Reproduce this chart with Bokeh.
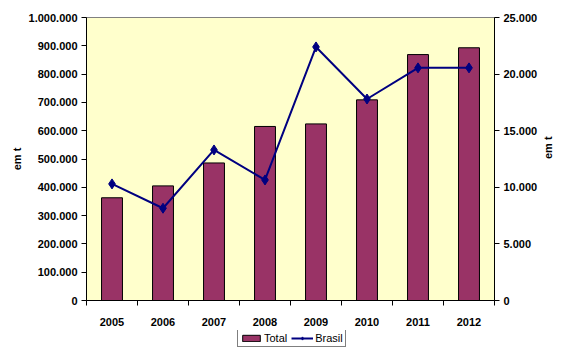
import math
from bokeh.plotting import figure
from bokeh.layouts import column
from bokeh.models import (Range1d, LinearAxis, FixedTicker, Legend, LegendItem,
                          ColumnDataSource)
from bokeh.embed import file_html
from bokeh.resources import INLINE

years = ["2005", "2006", "2007", "2008", "2009", "2010", "2011", "2012"]
total = [363000, 405000, 486000, 615000, 624000, 709000, 869000, 893000]
brasil = [10300, 8150, 13300, 10650, 22400, 17800, 20550, 20550]
left_ticks = [0, 100000, 200000, 300000, 400000, 500000, 600000, 700000, 800000, 900000, 1000000]
right_ticks = [0, 5000, 10000, 15000, 20000, 25000]
y_label = "em t"

def fmt(v):
    return "{:,}".format(v).replace(",", ".")

xs = [i + 0.5 for i in range(len(years))]
src = ColumnDataSource(dict(x=xs, total=total, brasil=brasil))

FONT = "Liberation Sans"
BAR_COLOR = "#993366"
LINE_COLOR = "#000080"

p = figure(width=566, height=330, output_backend="svg", toolbar_location=None,
           x_range=Range1d(0, len(years)), y_range=Range1d(0, 1000000),
           min_border_left=86, min_border_right=72, min_border_top=17, min_border_bottom=30)
p.extra_y_ranges = {"r": Range1d(0, 25000)}
p.background_fill_color = "#FFFFCC"
p.border_fill_color = "white"
p.outline_line_color = "#808080"
p.xgrid.visible = False
p.ygrid.visible = False

p.vbar(x="x", top="total", width=0.41, source=src,
       fill_color=BAR_COLOR, line_color="black", line_width=1)
p.line(x="x", y="brasil", source=src, y_range_name="r",
       line_color=LINE_COLOR, line_width=2)
p.scatter(x="x", y="brasil", source=src, y_range_name="r", marker="diamond",
          size=10, fill_color=LINE_COLOR, line_color=LINE_COLOR)

# x axis
xa = p.xaxis[0]
xa.ticker = FixedTicker(ticks=xs, minor_ticks=list(range(len(years) + 1)))
xa.major_label_overrides = {x: y for x, y in zip(xs, years)}
xa.major_tick_line_color = None
xa.minor_tick_out = 5
xa.minor_tick_in = 0
xa.minor_tick_line_color = "black"
xa.axis_line_color = "black"
xa.major_label_standoff = 11
xa.major_label_text_font = FONT
xa.major_label_text_font_style = "bold"
xa.major_label_text_font_size = "11px"
xa.major_label_text_color = "black"

def style_y(ax, ticks):
    ax.ticker = FixedTicker(ticks=ticks)
    ax.major_label_overrides = {t: fmt(t) for t in ticks}
    ax.minor_tick_line_color = None
    ax.major_tick_out = 5
    ax.major_tick_in = 0
    ax.axis_line_color = "black"
    ax.major_label_standoff = 4
    ax.major_label_text_font = FONT
    ax.major_label_text_font_style = "bold"
    ax.major_label_text_font_size = "11px"
    ax.major_label_text_color = "black"
    ax.axis_label = y_label
    ax.axis_label_text_font = FONT
    ax.axis_label_text_font_style = "bold"
    ax.axis_label_text_font_size = "11px"
    ax.axis_label_text_color = "black"
    ax.axis_label_standoff = 3

style_y(p.yaxis[0], left_ticks)
ra = LinearAxis(y_range_name="r")
style_y(ra, right_ticks)
ra.axis_label_orientation = math.pi / 2
ra.axis_label_standoff = 8
p.add_layout(ra, "right")

# legend strip below the chart (frames are aligned with the chart above)
lg = figure(width=566, height=23, output_backend="svg", toolbar_location=None,
            x_range=Range1d(0, 1), y_range=Range1d(0, 1),
            min_border=0, outline_line_color=None)
lg.axis.visible = False
lg.grid.visible = False
lb = lg.vbar(x=[-5], top=[-5], width=0.5, fill_color=BAR_COLOR, line_color="black")
ll = lg.line(x=[-5, -4], y=[-5, -5], line_color=LINE_COLOR, line_width=2)
lm = lg.scatter(x=[-5], y=[-5], marker="diamond", size=9,
                fill_color=LINE_COLOR, line_color=LINE_COLOR)
legend = Legend(items=[LegendItem(label="Total", renderers=[lb]),
                       LegendItem(label="Brasil", renderers=[ll, lm])],
                orientation="horizontal", location=(151, 6),
                border_line_color="black", border_line_width=1,
                background_fill_color="white", background_fill_alpha=1,
                label_text_font=FONT, label_text_font_size="11px",
                label_text_color="black",
                glyph_width=22, glyph_height=8, label_standoff=2,
                spacing=4, padding=2, margin=0, label_height=11)
lg.add_layout(legend, "center")

open("out.html", "w").write(file_html(column(p, lg, spacing=0), INLINE))
